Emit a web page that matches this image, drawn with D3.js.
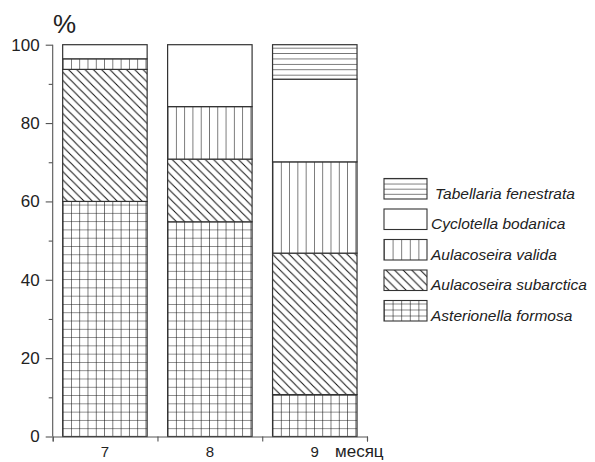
<!DOCTYPE html>
<html>
<head>
<meta charset="utf-8">
<script src="https://cdn.jsdelivr.net/npm/d3@7"></script>
<style>
	body { margin: 0; background: #fff; }
	svg { display: block; font-family: "Liberation Sans", Arial, sans-serif; }
</style>
</head>
<body>
<svg id="chart"></svg>
<script>
// data (percent of biomass per month)
var months = ["7", "8", "9"];
var species = ["Asterionella formosa", "Aulacoseira subarctica", "Aulacoseira valida", "Cyclotella bodanica", "Tabellaria fenestrata"];
var asterionella = [60, 54.8, 10.7];
var subarctica = [33.7, 16, 36.1];
var valida = [2.7, 13.4, 23.3];
var cyclotella = [3.6, 15.8, 21.1];
var tabellaria = [0, 0, 8.8];
var yTicks = [0, 20, 40, 60, 80, 100];
var yMinorTicks = [10, 30, 50, 70, 90];

var W = 595, H = 462;
var margin = { top: 44.7, right: 228, bottom: 25.5, left: 52.7 };

var svg = d3.select("#chart").attr("width", W).attr("height", H);
var defs = svg.append("defs");

var xScale = d3.scaleBand().domain(months)
	.range([margin.left, W - margin.right])
	.paddingInner(0.195).paddingOuter(0.095);
var xEdge = d3.scaleLinear().domain([0, months.length]).range([margin.left, W - margin.right]);
var yScale = d3.scaleLinear().domain([0, 100]).range([H - margin.bottom, margin.top]);

var rows = months.map(function(m, i) {
	var r = { month: m };
	r[species[0]] = asterionella[i];
	r[species[1]] = subarctica[i];
	r[species[2]] = valida[i];
	r[species[3]] = cyclotella[i];
	r[species[4]] = tabellaria[i];
	return r;
});
var stacked = d3.stack().keys(species)(rows);

var ink = "#111";

// fill patterns, one per species and origin so that hatching starts at the box edge
function makePattern(id, kind, ox, oy, sx, sy) {
	var p;
	if (kind == 3) { return "#fff"; }
	if (kind == 0) { // grid
		p = defs.append("pattern").attr("id", id).attr("patternUnits", "userSpaceOnUse")
			.attr("x", ox).attr("y", oy).attr("width", sx).attr("height", sy);
		p.append("rect").attr("width", sx).attr("height", sy).attr("fill", "#fff");
		p.append("path").attr("d", "M0,0V" + sy + "M0,0H" + sx)
			.attr("stroke", ink).attr("stroke-width", 1.1).attr("fill", "none");
	} else if (kind == 1) { // diagonal "\"
		p = defs.append("pattern").attr("id", id).attr("patternUnits", "userSpaceOnUse")
			.attr("x", ox).attr("y", oy).attr("width", sx).attr("height", sx);
		p.append("rect").attr("width", sx).attr("height", sx).attr("fill", "#fff");
		p.append("path").attr("d", "M0,0L" + sx + "," + sx + "M-2," + (sx - 2) + "L2," + (sx + 2) + "M" + (sx - 2) + ",-2L" + (sx + 2) + ",2")
			.attr("stroke", ink).attr("stroke-width", 1).attr("fill", "none");
	} else if (kind == 2) { // vertical
		p = defs.append("pattern").attr("id", id).attr("patternUnits", "userSpaceOnUse")
			.attr("x", ox).attr("y", oy).attr("width", sx).attr("height", 10);
		p.append("rect").attr("width", sx).attr("height", 10).attr("fill", "#fff");
		p.append("path").attr("d", "M0,0V10").attr("stroke", ink).attr("stroke-width", 1.1);
	} else if (kind == 4) { // horizontal
		p = defs.append("pattern").attr("id", id).attr("patternUnits", "userSpaceOnUse")
			.attr("x", ox).attr("y", oy).attr("width", 10).attr("height", sy);
		p.append("rect").attr("width", 10).attr("height", sy).attr("fill", "#fff");
		p.append("path").attr("d", "M0,0H10").attr("stroke", ink).attr("stroke-width", 1.1);
	}
	return "url(#" + id + ")";
}

// bars
var bw = xScale.bandwidth();
var cell = bw / 10.2;
var layers = svg.append("g").selectAll("g").data(stacked).enter().append("g");
layers.each(function(layer, k) {
	d3.select(this).selectAll("rect")
		.data(layer.filter(function(d) { return d[1] - d[0] > 0; }))
		.enter().append("rect")
		.attr("x", function(d) { return xScale(d.data.month); })
		.attr("y", function(d) { return yScale(d[1]); })
		.attr("width", bw)
		.attr("height", function(d) { return yScale(d[0]) - yScale(d[1]); })
		.attr("fill", function(d) {
			return makePattern("p" + k + "_" + d.data.month, k, xScale(d.data.month), yScale(0), cell, k == 4 ? 5.4 : cell);
		})
		.attr("stroke", "#333").attr("stroke-width", 1.2);
});

// y axis
var yAxis = d3.axisLeft(yScale).tickValues(yTicks).tickSize(7).tickPadding(6).tickFormat(d3.format("d"));
var yAxisG = svg.append("g").attr("transform", "translate(" + margin.left + ",0)").call(yAxis);
var yMinor = svg.append("g").attr("transform", "translate(" + margin.left + ",0)")
	.call(d3.axisLeft(yScale).tickValues(yMinorTicks).tickSize(4).tickFormat(""));
yMinor.select(".domain").remove();
yAxisG.select(".domain").attr("d", "M0," + yScale(100) + "V" + yScale(0));

// x axis: ticks at the band edges, labels at the band centres
var xTicksG = svg.append("g").attr("transform", "translate(0," + yScale(0) + ")")
	.call(d3.axisBottom(xEdge).tickValues(d3.range(months.length + 1)).tickSize(5).tickFormat(""));
var xLabG = svg.append("g").attr("transform", "translate(0," + yScale(0) + ")")
	.call(d3.axisBottom(xScale).tickSize(0).tickPadding(10));
xLabG.select(".domain").remove();

svg.selectAll(".domain, .tick line").attr("stroke", "#555").attr("stroke-width", 1.1);
yAxisG.selectAll(".tick text").attr("font-size", 17).attr("fill", "#222").attr("font-family", "Liberation Sans, Arial, sans-serif");
xLabG.selectAll(".tick text").attr("font-size", 15).attr("fill", "#222").attr("font-family", "Liberation Sans, Arial, sans-serif");

svg.append("text").attr("x", 53).attr("y", 33).attr("font-size", 26).attr("fill", "#222").text("%");
svg.append("text").attr("x", 335).attr("y", 457).attr("font-size", 17).attr("fill", "#222").text("месяц");

// legend, top row is the top layer
var legendX = 384, legendY = 178.5, legendStep = 30.5, boxW = 43, boxH = 20.5;
var legendKeys = species.map(function(s, k) { return k; }).reverse();
var legend = svg.append("g").selectAll("g").data(legendKeys).enter().append("g")
	.attr("transform", function(k, i) { return "translate(0," + (legendY + i * legendStep) + ")"; });
legend.append("rect")
	.attr("x", legendX).attr("y", 0).attr("width", boxW).attr("height", boxH)
	.attr("fill", function(k, i) {
		return makePattern("leg" + k, k, legendX, legendY + i * legendStep + (k == 4 ? 0 : boxH), 8.6, k == 4 ? 5.1 : 6);
	})
	.attr("stroke", "#333").attr("stroke-width", 1.1);
legend.append("text")
	.attr("x", function(k) { return k == 4 ? 435 : 431; })
	.attr("y", boxH - 0.5)
	.attr("font-size", 15.5).attr("font-style", "italic").attr("fill", "#222")
	.text(function(k) { return species[k]; });
</script>
</body>
</html>
